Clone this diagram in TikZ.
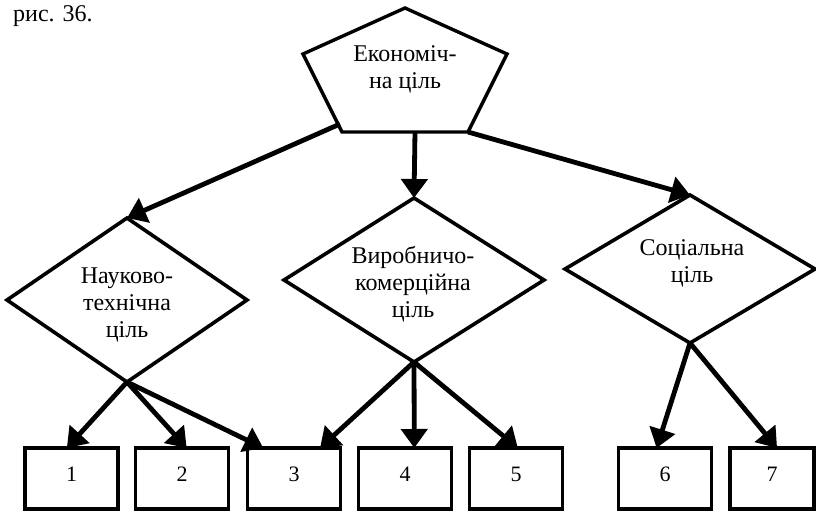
\documentclass[tikz,border=0pt]{standalone}
\usepackage{fontspec}
\setmainfont{Liberation Serif}
\usetikzlibrary{shapes.geometric,arrows.meta,calc}
\begin{document}
\begin{tikzpicture}[x=1pt,y=-1pt,
  txt/.style={font=\fontsize{24}{27}\selectfont, inner sep=0pt, anchor=base, align=center},
  goal/.style={draw, line width=3.6pt, shape=diamond, inner sep=0pt, outer sep=0pt, line join=miter},
  item/.style={draw, line width=3.8pt, minimum height=61pt, inner sep=0pt, outer sep=0pt,
               font=\fontsize{22}{26}\selectfont, text depth=8pt},
  link/.style={line width=4.8pt, -{Triangle[length=19pt,width=26pt]}}]
\useasboundingbox (0,0) rectangle (816,512);

% caption
\node[txt, anchor=base west] (cap) at (13,21) {рис. 36.};

% top goal (pentagon); multi-line labels are placed by their last baseline
\draw[line width=3.4pt, line join=miter]
  (405,8) coordinate (pT) -- (507,54) coordinate (pR) -- (468,132) coordinate (pBR)
  -- (342,132) coordinate (pBL) -- (303,54) coordinate (pL) -- cycle;
\coordinate (pOutL) at (340,124);
\coordinate (pOutM) at (415,132);
\coordinate (pOutR) at (468,132);
\node[txt] (econ) at (405,88) {Економіч-\\на ціль};

% second level goals
\node[goal, minimum width=240pt, minimum height=164pt] (nauk) at (127,300) {};
\node[goal, minimum width=260pt, minimum height=164pt] (vyrob) at (414,280) {};
\node[goal, minimum width=250pt, minimum height=148pt] (soc) at (690,269) {};
\node[txt] (naukT) at (127,337) {Науково-\\технічна\\ціль};
\node[txt] (vyrobT) at (413,317) {Виробничо-\\комерційна\\ціль};
\node[txt] (socT) at (692,282) {Соціальна\\ціль};

% lower level items
\node[item, minimum width=93pt] (b1) at (71.5,478.5) {1};
\node[item, minimum width=93pt] (b2) at (182,478.5) {2};
\node[item, minimum width=93pt] (b3) at (294,478.5) {3};
\node[item, minimum width=93pt] (b4) at (405,478.5) {4};
\node[item, minimum width=93pt] (b5) at (516,478.5) {5};
\node[item, minimum width=93pt] (b6) at (665,478.5) {6};
\node[item, minimum width=84pt] (b7) at (772,478.5) {7};

% connectors from the top goal
\draw[link] (pOutL) -- (nauk.north);
\draw[link] (pOutM) -- (vyrob.north);
\draw[link] (pOutR) -- (soc.north);

% connectors to the items
\draw[link] (nauk.south) -- ($(b1.north west)!0.45!(b1.north east)$);
\draw[link] (nauk.south) -- ($(b2.north west)!0.55!(b2.north east)$);
\draw[link] (nauk.south) -- ($(b3.north west)!0.17!(b3.north east)$);
\draw[link] (vyrob.south) -- ($(b3.north west)!0.78!(b3.north east)$);
\draw[link] (vyrob.south) -- ($(b4.north west)!0.6!(b4.north east)$);
\draw[link] (vyrob.south) -- ($(b5.north west)!0.52!(b5.north east)$);
\draw[link] (soc.south) -- ($(b6.north west)!0.41!(b6.north east)$);
\draw[link] (soc.south) -- ($(b7.north west)!0.56!(b7.north east)$);
\end{tikzpicture}
\end{document}
